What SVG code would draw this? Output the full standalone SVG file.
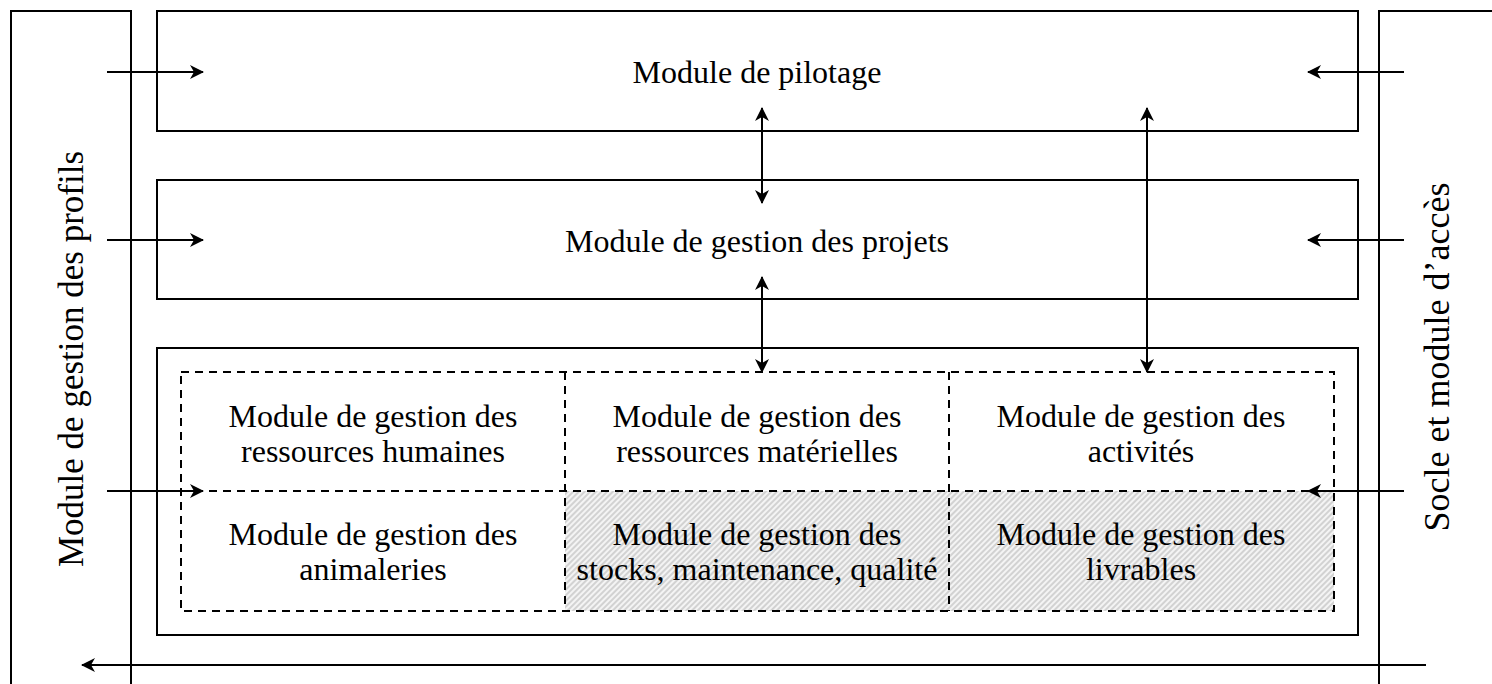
<svg xmlns="http://www.w3.org/2000/svg" width="1492" height="684" viewBox="0 0 1492 684">
<style>
.box{fill:none;stroke:#000;stroke-width:2}
.dash{fill:none;stroke:#000;stroke-width:2;stroke-dasharray:8,6}
.t{font-family:"Liberation Serif","Times New Roman",serif;font-size:32px;fill:#000;text-anchor:middle}
.v{font-size:35px}
.v2{font-size:36px}
.c{stroke:#000;stroke-width:2;fill:none}
</style>
<defs>
<marker id="ah" viewBox="0 0 14 14" markerWidth="14" markerHeight="14" refX="13" refY="7" orient="auto-start-reverse" markerUnits="userSpaceOnUse">
<path d="M0,0 L14,7 L0,14 L4,7 z" fill="#000"/>
</marker>
<pattern id="hatch" width="4" height="4" patternUnits="userSpaceOnUse" patternTransform="rotate(45)">
<rect width="4" height="4" fill="#f4f4f4"/>
<line x1="1" y1="0" x2="1" y2="4" stroke="#b0b0b0" stroke-width="1"/>
</pattern>
</defs>
<rect width="1492" height="684" fill="#fff"/>
<g id="profils">
<rect class="box" x="11" y="11" width="120" height="700"/>
<text class="t v" transform="translate(83,359) rotate(-90)">Module de gestion des profils</text>
</g>
<g id="socle">
<rect class="box" x="1379" y="11" width="200" height="700"/>
<text class="t v2" transform="translate(1449,357) rotate(-90)">Socle et module d’accès</text>
</g>
<g id="pilotage">
<rect class="box" x="157" y="11" width="1201" height="120"/>
<text class="t" x="757" y="83">Module de pilotage</text>
</g>
<g id="projets">
<rect class="box" x="157" y="180" width="1201" height="119"/>
<text class="t" x="757" y="252">Module de gestion des projets</text>
</g>
<g id="metiers">
<rect class="box" x="157" y="348" width="1201" height="287"/>
<rect x="565" y="491" width="769" height="120" fill="url(#hatch)"/>
<rect class="dash" x="181" y="372" width="1153" height="239"/>
<line class="dash" x1="565" y1="372" x2="565" y2="611"/>
<line class="dash" x1="949" y1="372" x2="949" y2="611"/>
<line class="dash" x1="181" y1="491" x2="1334" y2="491"/>
</g>
<g id="rh"><text class="t" x="373" y="427">Module de gestion des</text><text class="t" x="373" y="462">ressources humaines</text></g>
<g id="rm"><text class="t" x="757" y="427">Module de gestion des</text><text class="t" x="757" y="462">ressources matérielles</text></g>
<g id="act"><text class="t" x="1141" y="427">Module de gestion des</text><text class="t" x="1141" y="462">activités</text></g>
<g id="anim"><text class="t" x="373" y="545">Module de gestion des</text><text class="t" x="373" y="580">animaleries</text></g>
<g id="stocks"><text class="t" x="757" y="545">Module de gestion des</text><text class="t" x="757" y="580">stocks, maintenance, qualité</text></g>
<g id="livr"><text class="t" x="1141" y="545">Module de gestion des</text><text class="t" x="1141" y="580">livrables</text></g>
<g id="connectors">
<line class="c" x1="107" y1="72" x2="203" y2="72" marker-end="url(#ah)"/>
<line class="c" x1="107" y1="240" x2="203" y2="240" marker-end="url(#ah)"/>
<line class="c" x1="107" y1="491" x2="203" y2="491" marker-end="url(#ah)"/>
<line class="c" x1="1404" y1="72" x2="1308" y2="72" marker-end="url(#ah)"/>
<line class="c" x1="1404" y1="240" x2="1308" y2="240" marker-end="url(#ah)"/>
<line class="c" x1="1404" y1="491" x2="1308" y2="491" marker-end="url(#ah)"/>
<line class="c" x1="762" y1="108" x2="762" y2="203" marker-start="url(#ah)" marker-end="url(#ah)"/>
<line class="c" x1="762" y1="277" x2="762" y2="372" marker-start="url(#ah)" marker-end="url(#ah)"/>
<line class="c" x1="1147" y1="108" x2="1147" y2="372" marker-start="url(#ah)" marker-end="url(#ah)"/>
<line class="c" x1="1426" y1="665" x2="82" y2="665" marker-end="url(#ah)"/>
</g>
</svg>
